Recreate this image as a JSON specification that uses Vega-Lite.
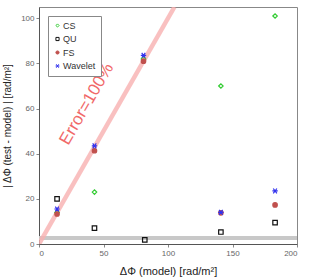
{
  "$schema": "https://vega.github.io/schema/vega-lite/v6.json",
  "autosize": "none",
  "width": 258,
  "height": 237,
  "padding": {"left": 39, "top": 7, "right": 16, "bottom": 36},
  "background": "white",
  "config": {
    "font": "Liberation Sans",
    "view": {"stroke": "#888888", "strokeWidth": 1},
    "axis": {"grid": false, "labelFontSize": 8, "labelColor": "#666666", "tickColor": "#888888", "domainColor": "#555555", "tickSize": 3, "titleFontWeight": "normal", "titleColor": "#222222"}
  },
  "datasets": {
    "pts": [
      {"series": "CS", "x": 14, "y": 14},
      {"series": "CS", "x": 43, "y": 23},
      {"series": "CS", "x": 81, "y": 82},
      {"series": "CS", "x": 141, "y": 70},
      {"series": "CS", "x": 183, "y": 101},
      {"series": "QU", "x": 14, "y": 20},
      {"series": "QU", "x": 43, "y": 7},
      {"series": "QU", "x": 82, "y": 1.8},
      {"series": "QU", "x": 141, "y": 5.3},
      {"series": "QU", "x": 183, "y": 9.5},
      {"series": "FS", "x": 14, "y": 13.3},
      {"series": "FS", "x": 43, "y": 41.3},
      {"series": "FS", "x": 81, "y": 81},
      {"series": "FS", "x": 141, "y": 13.8},
      {"series": "FS", "x": 183, "y": 17.3},
      {"series": "Wavelet", "x": 14, "y": 15.5},
      {"series": "Wavelet", "x": 43, "y": 43.5},
      {"series": "Wavelet", "x": 81, "y": 83.6},
      {"series": "Wavelet", "x": 141, "y": 14},
      {"series": "Wavelet", "x": 183, "y": 23.5}
    ],
    "diag": [{"x": 0, "y": 0, "x2": 105, "y2": 105}],
    "band": [{"y": 2.7, "x": 0, "x2": 200}],
    "label": [{"x": 37, "y": 62, "text": "Error=100%"}]
  },
  "layer": [
    {
      "data": {"name": "band"},
      "mark": {"type": "rule", "color": "#c8c8c8", "strokeWidth": 4},
      "encoding": {
        "y": {"field": "y", "type": "quantitative", "scale": {"domain": [0, 105], "nice": false}},
        "x": {"field": "x", "type": "quantitative", "scale": {"domain": [0, 200], "nice": false}},
        "x2": {"field": "x2"}
      }
    },
    {
      "data": {"name": "diag"},
      "mark": {"type": "rule", "color": "#f7b0b0", "strokeWidth": 4.5, "opacity": 0.8, "clip": true},
      "encoding": {
        "x": {"field": "x", "type": "quantitative"},
        "y": {"field": "y", "type": "quantitative"},
        "x2": {"field": "x2"},
        "y2": {"field": "y2"}
      }
    },
    {
      "data": {"name": "label"},
      "mark": {"type": "text", "angle": 300, "fontSize": 17, "color": "#ee4444", "opacity": 0.8},
      "encoding": {
        "x": {"field": "x", "type": "quantitative"},
        "y": {"field": "y", "type": "quantitative"},
        "text": {"field": "text"}
      }
    },
    {
      "data": {"name": "pts"},
      "mark": {"type": "point", "size": 20, "strokeWidth": 1.2, "opacity": 1},
      "encoding": {
        "x": {"field": "x", "type": "quantitative", "scale": {"domain": [0, 200], "nice": false},
          "axis": {"values": [0, 50, 100, 150, 200], "title": "ΔΦ (model) [rad/m²]", "titleFontSize": 11, "titlePadding": 8}},
        "y": {"field": "y", "type": "quantitative", "scale": {"domain": [0, 105], "nice": false},
          "axis": {"values": [0, 20, 40, 60, 80, 100], "title": "| ΔΦ (test - model) | [rad/m²]", "titleFontSize": 10, "titlePadding": 8}},
        "stroke": {"field": "series", "type": "nominal", "sort": ["CS", "QU", "FS", "Wavelet"],
          "scale": {"domain": ["CS", "QU", "FS", "Wavelet"], "range": ["#33cc33", "#111111", "#c0504d", "#3333ee"]},
          "legend": {"title": null, "orient": "top-left", "offset": 9, "strokeColor": "#888888", "fillColor": "white", "padding": 5, "labelFontSize": 9, "labelColor": "#333333", "symbolSize": 10, "symbolStrokeWidth": 1, "labelOffset": 1, "rowPadding": 3.5}},
        "fill": {"field": "series", "type": "nominal",
          "scale": {"domain": ["CS", "QU", "FS", "Wavelet"], "range": ["transparent", "transparent", "#c0504d", "transparent"]},
          "legend": {"title": null}},
        "shape": {"field": "series", "type": "nominal",
          "scale": {"domain": ["CS", "QU", "FS", "Wavelet"], "range": ["diamond", "square", "circle", "M-1.2,0L1.2,0M-0.8,-1.1L0.8,1.1M-0.8,1.1L0.8,-1.1"]},
          "legend": {"title": null}}
      }
    }
  ]
}
